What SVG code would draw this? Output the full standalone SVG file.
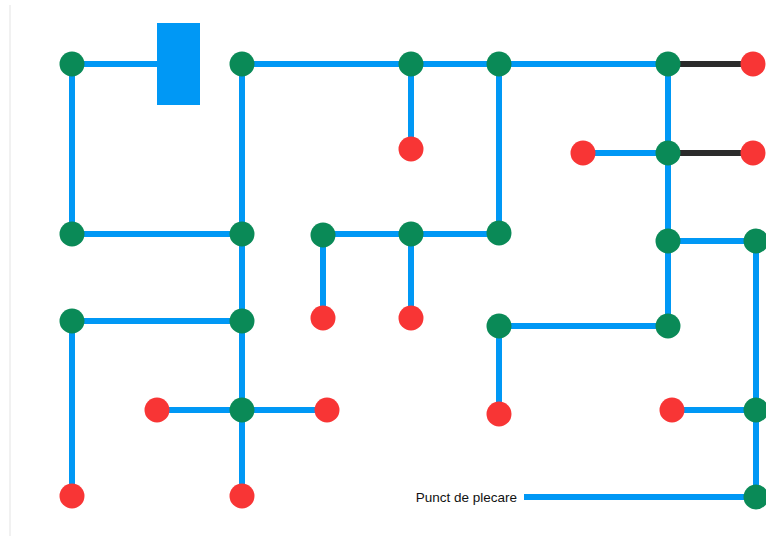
<svg xmlns="http://www.w3.org/2000/svg" width="766" height="536" viewBox="0 0 766 536">
<style>
.e{stroke:#0098F5;stroke-width:6;fill:none}
.k{stroke:#2b2b2b;stroke-width:6;fill:none}
.g{fill:#0A8A57}
.r{fill:#F83535}
.t{font-family:"Liberation Sans",Arial,sans-serif;font-size:13.5px;fill:#111}
</style>
<rect width="766" height="536" fill="#fff"/>
<line x1="10" y1="5" x2="10" y2="536" stroke="#ececec" stroke-width="1.5"/>
<g id="connectors">
<path class="e" d="M72 64H160"/>
<path class="e" d="M72 64V234H242"/>
<path class="e" d="M242 64V496"/>
<path class="e" d="M242 64H668"/>
<path class="e" d="M411 64V149"/>
<path class="e" d="M499 64V234H323V318"/>
<path class="e" d="M411 234V318"/>
<path class="e" d="M668 64V326H499V414"/>
<path class="e" d="M583 153H668"/>
<path class="e" d="M668 241H756V497"/>
<path class="e" d="M72 496V321H242"/>
<path class="e" d="M157 410H327"/>
<path class="e" d="M672 410H756"/>
<path class="e" d="M524 497H756"/>
<path class="k" d="M668 64H753"/>
<path class="k" d="M668 153H753"/>
</g>
<g id="block"><rect x="157" y="23" width="43" height="82" fill="#0098F5"/></g>
<g id="g1"><circle class="g" cx="72" cy="64" r="12.5"/></g>
<g id="g2"><circle class="g" cx="242" cy="64" r="12.5"/></g>
<g id="g3"><circle class="g" cx="411" cy="64" r="12.5"/></g>
<g id="g4"><circle class="g" cx="499" cy="64" r="12.5"/></g>
<g id="g5"><circle class="g" cx="668" cy="64" r="12.5"/></g>
<g id="g6"><circle class="g" cx="668" cy="153" r="12.5"/></g>
<g id="g7"><circle class="g" cx="72" cy="234" r="12.5"/></g>
<g id="g8"><circle class="g" cx="242" cy="234" r="12.5"/></g>
<g id="g9"><circle class="g" cx="323" cy="235" r="12.5"/></g>
<g id="g10"><circle class="g" cx="411" cy="234" r="12.5"/></g>
<g id="g11"><circle class="g" cx="499" cy="233" r="12.5"/></g>
<g id="g12"><circle class="g" cx="668" cy="241" r="12.5"/></g>
<g id="g13"><circle class="g" cx="756" cy="241" r="12.5"/></g>
<g id="g14"><circle class="g" cx="72" cy="321" r="12.5"/></g>
<g id="g15"><circle class="g" cx="242" cy="321" r="12.5"/></g>
<g id="g16"><circle class="g" cx="499" cy="326" r="12.5"/></g>
<g id="g17"><circle class="g" cx="668" cy="326" r="12.5"/></g>
<g id="g18"><circle class="g" cx="242" cy="410" r="12.5"/></g>
<g id="g19"><circle class="g" cx="756" cy="410" r="12.5"/></g>
<g id="g20"><circle class="g" cx="756" cy="497" r="12.5"/></g>
<g id="r1"><circle class="r" cx="753" cy="64" r="12.5"/></g>
<g id="r2"><circle class="r" cx="411" cy="149" r="12.5"/></g>
<g id="r3"><circle class="r" cx="583" cy="153" r="12.5"/></g>
<g id="r4"><circle class="r" cx="753" cy="153" r="12.5"/></g>
<g id="r5"><circle class="r" cx="323" cy="318" r="12.5"/></g>
<g id="r6"><circle class="r" cx="411" cy="318" r="12.5"/></g>
<g id="r7"><circle class="r" cx="157" cy="410" r="12.5"/></g>
<g id="r8"><circle class="r" cx="327" cy="410" r="12.5"/></g>
<g id="r9"><circle class="r" cx="499" cy="414" r="12.5"/></g>
<g id="r10"><circle class="r" cx="672" cy="410" r="12.5"/></g>
<g id="r11"><circle class="r" cx="72" cy="496" r="12.5"/></g>
<g id="r12"><circle class="r" cx="242" cy="496" r="12.5"/></g>
<g id="start"><text class="t" x="517" y="502" text-anchor="end">Punct de plecare</text></g>
</svg>
